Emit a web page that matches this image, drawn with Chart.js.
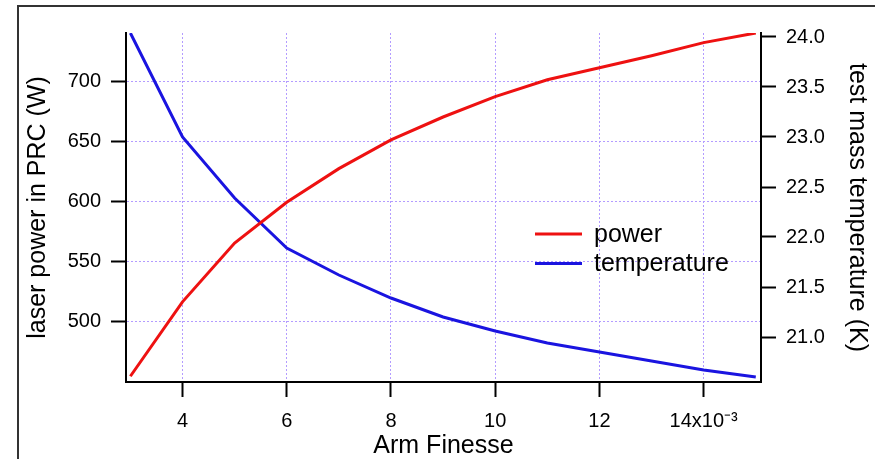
<!DOCTYPE html>
<html>
<head>
<meta charset="utf-8">
<title>Arm Finesse</title>
<script src="https://cdn.jsdelivr.net/npm/chart.js@4"></script>
<style>
    html, body { margin: 0; padding: 0; background: #ffffff; }
    #wrap { width: 875px; height: 459px; }
</style>
</head>
<body>
<div id="wrap"><canvas id="finesseChart" width="875" height="459"></canvas></div>
<script>
// DATA
const finesse = [3, 4, 5, 6, 7, 8, 9, 10, 11, 12, 13, 14, 15];
const powerW = [454, 516, 565, 599, 627, 651, 670, 687, 701, 711, 721, 732, 740];
const tempK = [24.04, 23.0, 22.39, 21.89, 21.62, 21.39, 21.2, 21.06, 20.94, 20.85, 20.76, 20.67, 20.6];
const xTicks = [4, 6, 8, 10, 12, 14];
const powerTicks = [500, 550, 600, 650, 700];
const tempTicks = [21.0, 21.5, 22.0, 22.5, 23.0, 23.5, 24.0];
const seriesNames = ["power", "temperature"];
const seriesColors = ["#ee1111", "#1a14e0"];

const FONT = "'Liberation Sans', Arial, Helvetica, sans-serif";
const GRID = "#b39cff";

function toPoints(ys) {
    return finesse.map((x, i) => ({ x: x, y: ys[i] }));
}

function fixTicks(values) {
    return function (scale) {
        scale.ticks = values.map(v => ({ value: v }));
    };
}

// FRAME + LEGEND (drawn by hand, legend sits inside the plot)
const framePlugin = {
    id: "frame",
    beforeDraw(chart) {
        const ctx = chart.ctx;
        ctx.save();
        ctx.fillStyle = "#ffffff";
        ctx.fillRect(0, 0, chart.width, chart.height);
        ctx.strokeStyle = "#333333";
        ctx.lineWidth = 2;
        ctx.beginPath();
        ctx.moveTo(18, chart.height);
        ctx.lineTo(18, 6);
        ctx.lineTo(chart.width, 6);
        ctx.stroke();
        ctx.restore();
    },
    afterDatasetsDraw(chart) {
        const ctx = chart.ctx;
        ctx.save();
        ctx.font = "25px " + FONT;
        ctx.textBaseline = "middle";
        ctx.textAlign = "left";
        chart.data.datasets.forEach((ds, i) => {
            const y = 234 + i * 29.5;
            ctx.strokeStyle = ds.borderColor;
            ctx.lineWidth = 3;
            ctx.beginPath();
            ctx.moveTo(535, y);
            ctx.lineTo(582, y);
            ctx.stroke();
            ctx.fillStyle = "#000000";
            ctx.fillText(ds.label, 594, y + 1);
        });
        ctx.restore();
    }
};

document.addEventListener("DOMContentLoaded", function () {

    const canvas = document.getElementById("finesseChart");

    const tickFont = { family: FONT, size: 20 };
    const titleFont = { family: FONT, size: 25, lineHeight: 1 };

    new Chart(canvas, {
        type: "line",
        data: {
            datasets: [{
                label: seriesNames[0],
                data: toPoints(powerW),
                yAxisID: "yPower",
                borderColor: seriesColors[0],
                borderWidth: 3,
                pointRadius: 0,
                tension: 0
            }, {
                label: seriesNames[1],
                data: toPoints(tempK),
                yAxisID: "yTemp",
                borderColor: seriesColors[1],
                borderWidth: 3,
                pointRadius: 0,
                tension: 0
            }]
        },
        options: {
            responsive: false,
            animation: false,
            layout: { padding: { top: 33, left: 0, right: 0, bottom: 0 } },
            plugins: {
                legend: { display: false },
                tooltip: { enabled: false }
            },
            scales: {
                x: {
                    type: "linear",
                    min: 2.916,
                    max: 15.1,
                    afterBuildTicks: fixTicks(xTicks),
                    afterFit(scale) { scale.height = 77; },
                    grid: {
                        color: GRID,
                        lineWidth: 1,
                        tickLength: 15,
                        tickColor: "#000000",
                        tickWidth: 2,
                        tickBorderDash: []
                    },
                    border: { display: true, color: "#000000", width: 2, dash: [2, 2] },
                    ticks: {
                        color: "#000000",
                        font: tickFont,
                        padding: 12,
                        maxRotation: 0,
                        callback: v => v === 14 ? "14x10\u207B\u00B3" : String(v)
                    },
                    title: {
                        display: true,
                        text: "Arm Finesse",
                        color: "#000000",
                        font: titleFont,
                        padding: { top: 0, bottom: 0.5 }
                    }
                },
                yPower: {
                    type: "linear",
                    position: "left",
                    min: 449.2,
                    max: 740,
                    afterBuildTicks: fixTicks(powerTicks),
                    afterFit(scale) { scale.width = 126; },
                    grid: {
                        color: GRID,
                        lineWidth: 1,
                        tickLength: 15,
                        tickColor: "#000000",
                        tickWidth: 2,
                        tickBorderDash: []
                    },
                    border: { display: true, color: "#000000", width: 2, dash: [2, 2] },
                    ticks: { color: "#000000", font: tickFont, padding: 10 },
                    title: {
                        display: true,
                        text: "laser power in PRC (W)",
                        color: "#000000",
                        font: titleFont,
                        padding: { top: 26, bottom: 0 }
                    }
                },
                yTemp: {
                    type: "linear",
                    position: "right",
                    min: 20.55,
                    max: 24.04,
                    afterBuildTicks: fixTicks(tempTicks),
                    afterFit(scale) { scale.width = 114; },
                    grid: {
                        drawOnChartArea: false,
                        tickLength: 15,
                        tickColor: "#000000",
                        tickWidth: 2,
                        tickBorderDash: []
                    },
                    border: { display: true, color: "#000000", width: 2 },
                    ticks: {
                        color: "#000000",
                        font: tickFont,
                        padding: 10,
                        callback: v => v.toFixed(1)
                    },
                    title: {
                        display: true,
                        text: "test mass temperature (K)",
                        color: "#000000",
                        font: titleFont,
                        padding: { top: 5.5, bottom: 0 }
                    }
                }
            }
        },
        plugins: [framePlugin]
    });
});
</script>
</body>
</html>
